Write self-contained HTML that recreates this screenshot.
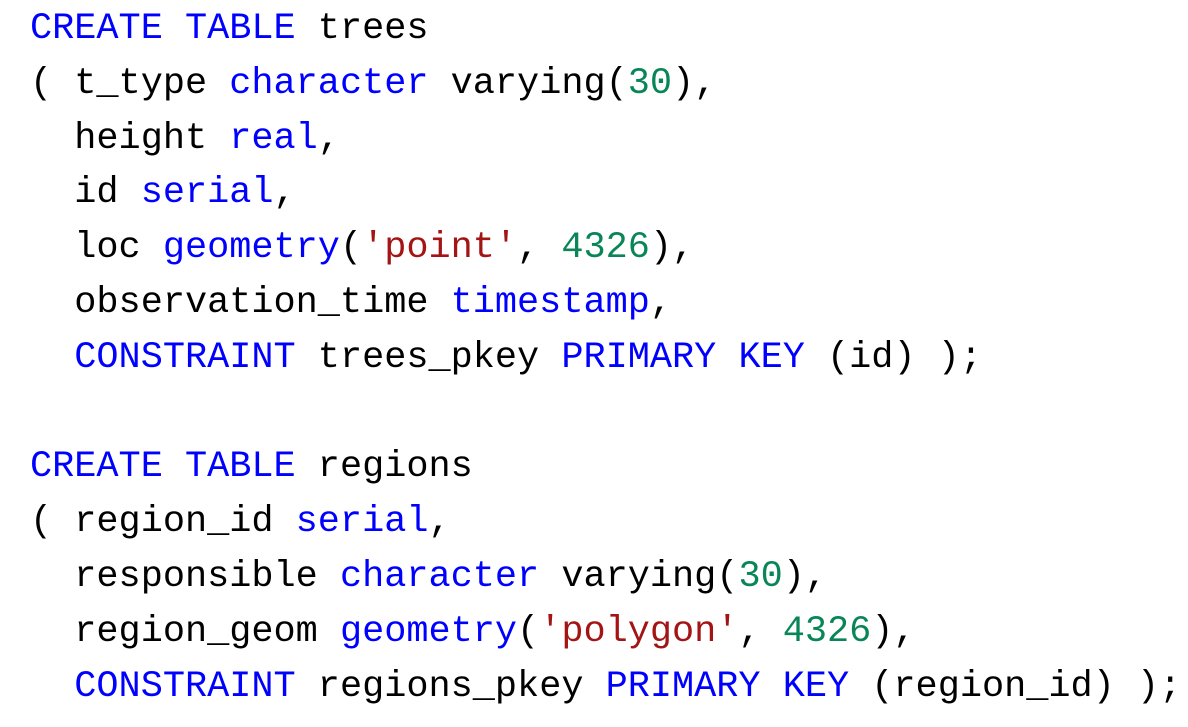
<!DOCTYPE html>
<html><head><meta charset="utf-8"><style>
html,body{margin:0;padding:0;background:#fff;width:1188px;height:727px;overflow:hidden}
pre{position:absolute;left:30px;top:2px;margin:0;font-family:"Liberation Mono",monospace;font-size:36.9px;line-height:54.8px;color:#000}
.k{color:#0000ff}.n{color:#098658}.s{color:#a31515}
</style></head><body>
<pre><span class="k">CREATE</span> <span class="k">TABLE</span> trees
( t_type <span class="k">character</span> varying(<span class="n">30</span>),
  height <span class="k">real</span>,
  id <span class="k">serial</span>,
  loc <span class="k">geometry</span>(<span class="s">'point'</span>, <span class="n">4326</span>),
  observation_time <span class="k">timestamp</span>,
  <span class="k">CONSTRAINT</span> trees_pkey <span class="k">PRIMARY</span> <span class="k">KEY</span> (id) );

<span class="k">CREATE</span> <span class="k">TABLE</span> regions
( region_id <span class="k">serial</span>,
  responsible <span class="k">character</span> varying(<span class="n">30</span>),
  region_geom <span class="k">geometry</span>(<span class="s">'polygon'</span>, <span class="n">4326</span>),
  <span class="k">CONSTRAINT</span> regions_pkey <span class="k">PRIMARY</span> <span class="k">KEY</span> (region_id) );</pre>
</body></html>
